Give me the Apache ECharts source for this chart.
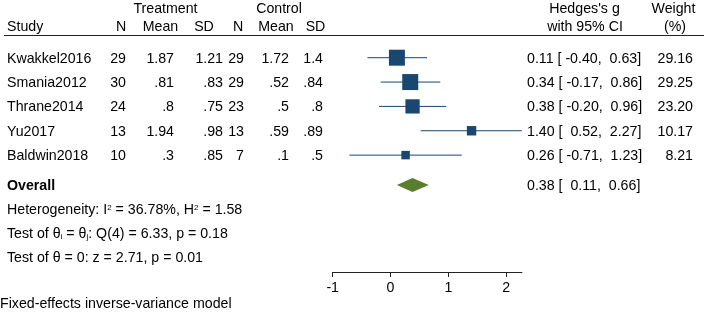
<!DOCTYPE html>
<html>
<head>
<meta charset="utf-8">
<script src="https://cdn.jsdelivr.net/npm/echarts@6/dist/echarts.min.js"></script>
<style>
  html, body { margin: 0; padding: 0; background: #fff; }
  #chart { width: 708px; height: 316px; }
</style>
</head>
<body>
<div id="chart"></div>
<script>
// study table
const studies = ['Kwakkel2016', 'Smania2012', 'Thrane2014', 'Yu2017', 'Baldwin2018']
const trtN = ['29', '30', '24', '13', '10']
const trtMean = ['1.87', '.81', '.8', '1.94', '.3']
const trtSD = ['1.21', '.83', '.75', '.98', '.85']
const ctlN = ['29', '29', '23', '13', '7']
const ctlMean = ['1.72', '.52', '.5', '.59', '.1']
const ctlSD = ['1.4', '.84', '.8', '.89', '.5']

// effect sizes (Hedges's g) and weights
const hedgesG = [0.11, 0.34, 0.38, 1.40, 0.26]
const ciLow = [-0.40, -0.17, -0.20, 0.52, -0.71]
const ciHigh = [0.63, 0.86, 0.96, 2.27, 1.23]
const weights = [29.16, 29.25, 23.20, 10.17, 8.21]

// overall estimate
const overallG = [0.38]
const overallLow = [0.11]
const overallHigh = [0.66]

const xTicks = [-1, 0, 1, 2]

const statLines = [
  'Heterogeneity: I{sup|2} = 36.78%, H{sup|2} = 1.58',
  'Test of θ{sub|i} = θ{sub|j}: Q(4) = 6.33, p = 0.18',
  'Test of θ = 0: z = 2.71, p = 0.01'
]
const noteText = 'Fixed-effects inverse-variance model'

// layout (row positions on the y scale)
const overallRow = 5.23
const statRows = [6.23, 7.21, 8.2]
const noteRow = 10.08

const FONT = '"Liberation Sans", Arial, sans-serif'
const FS = 14.2
const NAVY = '#1a476f'
const GREEN = '#5a7d2d'

const chart = echarts.init(document.getElementById('chart'))

function fmt(v) {
  return v.toFixed(2).padStart(6, ' ')
}

chart.setOption({
  animation: false,
  grid: { left: 332.7, right: 186.1, top: 9, bottom: 44 },
  xAxis: {
    type: 'value',
    min: -1,
    max: 2.27,
    splitLine: { show: false },
    axisLine: { show: true, onZero: false, lineStyle: { color: '#222', width: 1 } },
    axisTick: { show: true, length: 5, customValues: xTicks, lineStyle: { color: '#222' } },
    axisLabel: {
      customValues: xTicks,
      color: '#000',
      fontFamily: FONT,
      fontSize: FS,
      margin: 9
    }
  },
  yAxis: {
    type: 'value',
    min: -2,
    max: 8.8,
    inverse: true,
    show: false
  },
  series: [
    {
      type: 'custom',
      clip: false,
      data: studies.map((s, i) => [hedgesG[i], i, ciLow[i], ciHigh[i], weights[i]]),
      encode: { x: [0, 2, 3], y: 1 },
      renderItem(params, api) {
        const y = api.value(1)
        const p = api.coord([api.value(0), y])
        const lo = api.coord([api.value(2), y])
        const hi = api.coord([api.value(3), y])
        const side = 16 * Math.sqrt(api.value(4) / 29.25)
        return {
          type: 'group',
          children: [
            {
              type: 'line',
              shape: { x1: lo[0], y1: p[1], x2: hi[0], y2: p[1] },
              style: { stroke: NAVY, lineWidth: 1 }
            },
            {
              type: 'rect',
              shape: { x: p[0] - side / 2, y: p[1] - side / 2, width: side, height: side },
              style: { fill: NAVY }
            }
          ]
        }
      }
    },
    {
      type: 'custom',
      clip: false,
      data: overallG.map((v, i) => [v, overallRow, overallLow[i], overallHigh[i]]),
      encode: { x: [0, 2, 3], y: 1 },
      renderItem(params, api) {
        const y = api.value(1)
        const p = api.coord([api.value(0), y])
        const lo = api.coord([api.value(2), y])
        const hi = api.coord([api.value(3), y])
        const h = 7
        return {
          type: 'polygon',
          shape: { points: [[lo[0], p[1]], [p[0], p[1] - h], [hi[0], p[1]], [p[0], p[1] + h]] },
          style: { fill: GREEN }
        }
      }
    }
  ]
})

// table text placed on the same row scale (nudged 1px to match glyph centres)
function rowY(r) {
  return chart.convertToPixel({ yAxisIndex: 0 }, r) + 1
}

function txt(x, y, text, align, extra) {
  return {
    type: 'text',
    x: x,
    y: y,
    silent: true,
    style: Object.assign({
      text: text,
      fontFamily: FONT,
      fontSize: FS,
      fill: '#000',
      textAlign: align || 'left',
      align: align || 'left',
      textVerticalAlign: 'middle',
      verticalAlign: 'middle'
    }, extra || {})
  }
}

const g = []
const h1 = rowY(-2.05)
const h2 = rowY(-1.28)
g.push(txt(165.5, h1, 'Treatment', 'center'))
g.push(txt(279, h1, 'Control', 'center'))
g.push(txt(584.5, h1, "Hedges's g", 'center'))
g.push(txt(673.5, h1, 'Weight', 'center'))
g.push(txt(7, h2, 'Study', 'left'))
g.push(txt(121, h2, 'N', 'center'))
g.push(txt(160.5, h2, 'Mean', 'center'))
g.push(txt(204, h2, 'SD', 'center'))
g.push(txt(238, h2, 'N', 'center'))
g.push(txt(276, h2, 'Mean', 'center'))
g.push(txt(315.5, h2, 'SD', 'center'))
g.push(txt(585, h2, 'with 95% CI', 'center'))
g.push(txt(675, h2, '(%)', 'center'))

const lineY = Math.round(chart.convertToPixel({ yAxisIndex: 0 }, -0.93)) + 0.5
g.push({
  type: 'line',
  silent: true,
  shape: { x1: 4, y1: lineY, x2: 704, y2: lineY },
  style: { stroke: '#222', lineWidth: 1 }
})

studies.forEach((s, i) => {
  const y = rowY(i)
  g.push(txt(7, y, s, 'left'))
  g.push(txt(126, y, trtN[i], 'right'))
  g.push(txt(174, y, trtMean[i], 'right'))
  g.push(txt(223, y, trtSD[i], 'right'))
  g.push(txt(244, y, ctlN[i], 'right'))
  g.push(txt(289, y, ctlMean[i], 'right'))
  g.push(txt(323, y, ctlSD[i], 'right'))
  g.push(txt(527, y, hedgesG[i].toFixed(2) + ' [' + fmt(ciLow[i]) + ',' + fmt(ciHigh[i]) + ']', 'left'))
  g.push(txt(693, y, weights[i].toFixed(2), 'right'))
})

const oy = rowY(overallRow)
g.push(txt(7, oy, 'Overall', 'left', { fontWeight: 'bold' }))
g.push(txt(527, oy, overallG[0].toFixed(2) + ' [' + fmt(overallLow[0]) + ',' + fmt(overallHigh[0]) + ']', 'left'))

const rich = {
  sup: { fontFamily: FONT, fontSize: 8, verticalAlign: 'top', fill: '#000' },
  sub: { fontFamily: FONT, fontSize: 8, verticalAlign: 'bottom', fill: '#000' }
}
statLines.forEach((t, i) => {
  g.push(txt(7, rowY(statRows[i]), t, 'left', { rich: rich }))
})

g.push(txt(0, rowY(noteRow), noteText, 'left'))

chart.setOption({ graphic: { elements: g } })
</script>
</body>
</html>
